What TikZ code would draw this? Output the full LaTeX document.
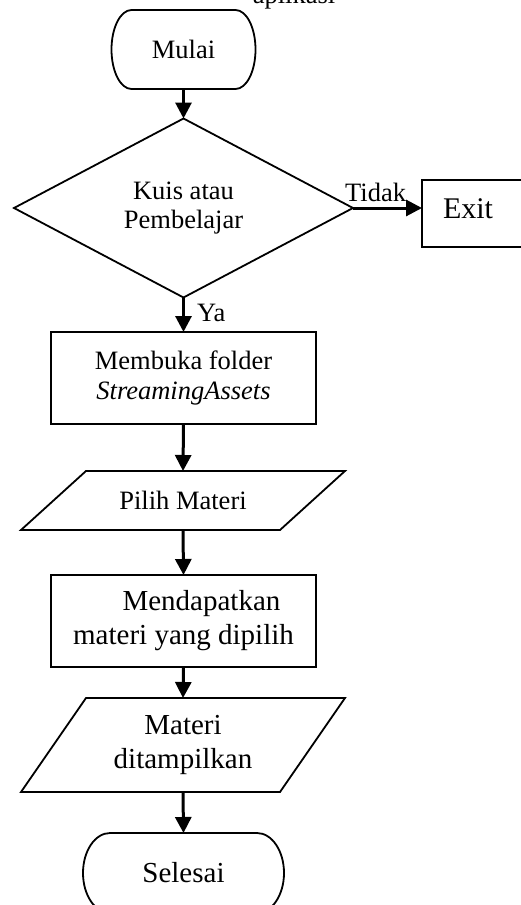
\documentclass[tikz,border=0pt]{standalone}
\usepackage{fontspec}
\setmainfont{Liberation Serif}
\usetikzlibrary{arrows.meta,shapes.geometric}
\begin{document}
\begin{tikzpicture}[x={(1pt,0pt)},y={(0pt,-1pt)},
  outline/.style={draw=black, line width=1.8pt},
  shp/.style={outline, inner sep=0pt, outer sep=0pt, align=center},
  ghost/.style={inner sep=0pt, outer sep=0pt, align=center},
  box/.style={shp, minimum width=265pt, minimum height=92pt},
  arr/.style={line width=3pt, -{Triangle[length=16pt,width=16pt]}},
  fa/.style={font=\fontsize{26.5}{29.5}\selectfont},
  fb/.style={font=\fontsize{29}{34}\selectfont},
  lbl/.style={inner sep=0pt, anchor=base west, fa}]
\useasboundingbox (0,0) rectangle (521,905);
\clip (0,0) rectangle (521,905);

\node[inner sep=0pt, anchor=base, fa] (apl) at (294,3) {aplikasi};

% Mulai
\node[ghost, minimum width=144pt, minimum height=79pt, fa] (mulai) at (183.5,49.5) {Mulai};
\draw[outline] ([xshift=20pt]mulai.north west) -- ([xshift=-20pt]mulai.north east)
  arc[start angle=90,end angle=-90,x radius=20pt,y radius=39.5pt]
  -- ([xshift=20pt]mulai.south west)
  arc[start angle=270,end angle=90,x radius=20pt,y radius=39.5pt] -- cycle;

% Decision
\node[shp, diamond, aspect=1.9, minimum width=339pt, minimum height=179pt, fa] (kuis) at (183.5,208) {Kuis atau\\Pembelajar};

% Exit
\node[shp, anchor=west, minimum height=67pt, text width=100pt, align=left, inner xsep=21pt, text depth=9pt, font=\fontsize{30}{34}\selectfont] (exit) at (422,213.5) {Exit};

\node[lbl] (tidak) at (345,201) {Tidak};
\node[lbl] (ya) at (197,321) {Ya};

% Membuka folder
\node[box, fa] (buka) at (183.5,378) {Membuka folder\\\textit{StreamingAssets}};

% Pilih Materi
\node[ghost, minimum width=324pt, minimum height=59pt, fa] (pilih) at (183,500.5) {Pilih Materi};
\draw[outline] ([xshift=65pt]pilih.north west) -- (pilih.north east)
  -- ([xshift=-65pt]pilih.south east) -- (pilih.south west) -- cycle;

% Mendapatkan
\node[box, fb] (dapat) at (183.5,621) {\hspace*{36pt}Mendapatkan\\materi yang dipilih};

% Materi ditampilkan
\node[ghost, minimum width=324pt, minimum height=94pt, fb] (tampil) at (183,745) {Materi\\ditampilkan};
\draw[outline] ([xshift=65pt]tampil.north west) -- (tampil.north east)
  -- ([xshift=-65pt]tampil.south east) -- (tampil.south west) -- cycle;

% Selesai
\node[ghost, minimum width=201pt, minimum height=80pt, fb] (selesai) at (183.5,873) {Selesai};
\draw[outline] ([xshift=27pt]selesai.north west) -- ([xshift=-27pt]selesai.north east)
  arc[start angle=90,end angle=-90,x radius=27pt,y radius=40pt]
  -- ([xshift=27pt]selesai.south west)
  arc[start angle=270,end angle=90,x radius=27pt,y radius=40pt] -- cycle;

% Connectors
\draw[arr] (mulai.south) -- (kuis.north);
\draw[arr] (kuis.east) -- (kuis.east -| exit.west);
\draw[arr] (kuis.south) -- (buka.north);
\draw[arr] (buka.south) -- (pilih.north);
\draw[arr] (pilih.south) -- (dapat.north);
\draw[arr] (dapat.south) -- (tampil.north);
\draw[arr] (tampil.south) -- (selesai.north);
\end{tikzpicture}
\end{document}
